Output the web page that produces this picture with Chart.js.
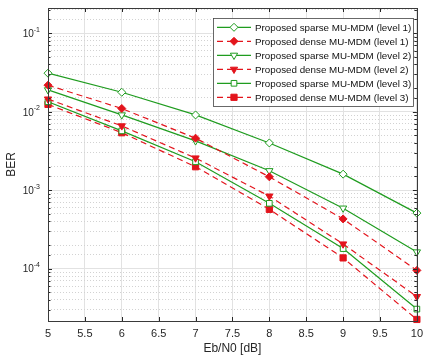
<!DOCTYPE html>
<html lang="en">
<head>
  <meta charset="UTF-8">
  <title>BER vs Eb/N0</title>
  <script src="https://cdn.jsdelivr.net/npm/chart.js"></script>
  <style>
    body {
      margin: 0;
      padding: 0;
      background: #fff;
    }

    #wrap {
      position: relative;
      width: 429px;
      height: 360px;
    }
  </style>
</head>
<body>
  <div id="wrap">
    <canvas id="berChart"></canvas>
  </div>
  <script>
    // values
    const ebn0 = [5, 6, 7, 8, 9, 10];
    const sparseL1 = [0.031, 0.0177, 0.0091, 0.0040, 0.0016, 0.00051];
    const denseL1 = [0.0218, 0.0110, 0.0046, 0.00148, 0.00043, 0.000095];
    const sparseL2 = [0.0190, 0.0091, 0.00425, 0.00177, 0.00059, 0.000163];
    const denseL2 = [0.0145, 0.0066, 0.00257, 0.00084, 0.000206, 0.000044];
    const sparseL3 = [0.0134, 0.0057, 0.0023, 0.00068, 0.00018, 0.0000305];
    const denseL3 = [0.0124, 0.0054, 0.00199, 0.00057, 0.000137, 0.0000225];
    const seriesNames = [
      'Proposed sparse MU-MDM (level 1)',
      'Proposed dense MU-MDM (level 1)',
      'Proposed sparse MU-MDM (level 2)',
      'Proposed dense MU-MDM (level 2)',
      'Proposed sparse MU-MDM (level 3)',
      'Proposed dense MU-MDM (level 3)'
    ];
    const yLabelExps = [-1, -2, -3, -4];

    const GREEN = '#1f9c1f';
    const RED = '#e3141c';
    const AXIS = '#262626';
    const FONT = "'Liberation Sans', Arial, Helvetica, sans-serif";

    const toXY = arr => arr.map((v, i) => ({ x: ebn0[i], y: v }));
    const isDecade = v => Math.abs(Math.log10(v) - Math.round(Math.log10(v))) < 1e-6;

    function sparseSet(label, data, style, radius, rotation) {
      return {
        label: label,
        data: toXY(data),
        borderColor: GREEN,
        borderWidth: 1.2,
        pointStyle: style,
        pointRadius: radius,
        pointRotation: rotation || 0,
        pointBackgroundColor: '#fff',
        pointBorderColor: GREEN,
        pointBorderWidth: 1,
        tension: 0,
        clip: false
      };
    }

    function denseSet(label, data, style, radius, rotation) {
      return {
        label: label,
        data: toXY(data),
        borderColor: RED,
        borderWidth: 1.2,
        borderDash: [6, 4],
        pointStyle: style,
        pointRadius: radius,
        pointRotation: rotation || 0,
        pointBackgroundColor: RED,
        pointBorderColor: RED,
        pointBorderWidth: 1,
        tension: 0,
        clip: false
      };
    }

    // matlab style box, inward ticks, 10^n labels and legend
    const matlabFrame = {
      id: 'matlabFrame',
      afterDraw(chart) {
        const ctx = chart.ctx;
        const a = chart.chartArea;
        const xs = chart.scales.x;
        const ys = chart.scales.y;
        ctx.save();

        // y tick labels
        ctx.fillStyle = AXIS;
        ctx.textBaseline = 'alphabetic';
        ctx.textAlign = 'left';
        yLabelExps.forEach(e => {
          const py = ys.getPixelForValue(Math.pow(10, e));
          const sup = '-' + Math.abs(e);
          ctx.font = '7px ' + FONT;
          const supW = ctx.measureText(sup).width;
          ctx.font = '10px ' + FONT;
          const baseW = ctx.measureText('10').width;
          const right = 40;
          ctx.fillText('10', right - supW - baseW, py + 3.8);
          ctx.font = '7px ' + FONT;
          ctx.fillText(sup, right - supW, py - 1.5);
        });

        // inward ticks
        ctx.strokeStyle = AXIS;
        ctx.lineWidth = 1;
        ctx.beginPath();
        xs.ticks.forEach(t => {
          const px = Math.round(xs.getPixelForValue(t.value)) + 0.5;
          ctx.moveTo(px, a.bottom);
          ctx.lineTo(px, a.bottom - 4);
          ctx.moveTo(px, a.top);
          ctx.lineTo(px, a.top + 4);
        });
        ys.ticks.forEach(t => {
          const py = Math.round(ys.getPixelForValue(t.value)) + 0.5;
          const len = isDecade(t.value) ? 4 : 2.5;
          ctx.moveTo(a.left, py);
          ctx.lineTo(a.left + len, py);
          ctx.moveTo(a.right, py);
          ctx.lineTo(a.right - len, py);
        });
        ctx.stroke();

        // axes box
        ctx.strokeStyle = '#3a3a3a';
        ctx.strokeRect(Math.round(a.left) + 0.5, Math.round(a.top) + 0.5,
          Math.round(a.right - a.left), Math.round(a.bottom - a.top));

        // legend
        const lx = 213.5, ly = 18.5, lw = 200, lh = 88;
        ctx.fillStyle = '#fff';
        ctx.fillRect(lx, ly, lw, lh);
        ctx.strokeStyle = '#444';
        ctx.lineWidth = 0.8;
        ctx.strokeRect(lx, ly, lw, lh);
        chart.data.datasets.forEach((ds, i) => {
          const ry = 27.3 + i * 14;
          ctx.save();
          ctx.strokeStyle = ds.borderColor;
          ctx.lineWidth = ds.borderWidth;
          ctx.setLineDash(ds.borderDash || []);
          ctx.beginPath();
          ctx.moveTo(217, ry);
          ctx.lineTo(251, ry);
          ctx.stroke();
          ctx.setLineDash([]);
          ctx.fillStyle = ds.pointBackgroundColor;
          ctx.strokeStyle = ds.pointBorderColor;
          ctx.lineWidth = ds.pointBorderWidth;
          Chart.helpers.drawPoint(ctx, {
            pointStyle: ds.pointStyle,
            rotation: ds.pointRotation,
            radius: ds.pointRadius,
            borderWidth: ds.pointBorderWidth
          }, 234, ry);
          ctx.restore();
          ctx.fillStyle = '#111';
          ctx.font = '9.8px ' + FONT;
          ctx.textBaseline = 'middle';
          ctx.textAlign = 'left';
          ctx.fillText(ds.label, 255, ry + 0.5);
        });

        ctx.restore();
      }
    };

    const berChartObj = {
      type: 'line',
      data: {
        datasets: [
          sparseSet(seriesNames[0], sparseL1, 'rectRot', 4),
          denseSet(seriesNames[1], denseL1, 'rectRot', 4),
          sparseSet(seriesNames[2], sparseL2, 'triangle', 4.2, 180),
          denseSet(seriesNames[3], denseL2, 'triangle', 4.2, 180),
          sparseSet(seriesNames[4], sparseL3, 'rect', 4),
          denseSet(seriesNames[5], denseL3, 'rect', 4.4)
        ]
      },
      options: {
        responsive: true,
        maintainAspectRatio: false,
        animation: false,
        devicePixelRatio: 1,
        layout: {
          padding: { top: 8, right: 6, left: 0, bottom: 0 }
        },
        plugins: {
          legend: { display: false },
          tooltip: { enabled: false }
        },
        scales: {
          x: {
            type: 'linear',
            min: 5,
            max: 10,
            afterFit: s => { s.height = 39; },
            ticks: {
              stepSize: 0.5,
              autoSkip: false,
              maxRotation: 0,
              padding: 6,
              color: AXIS,
              font: { family: FONT, size: 11 },
              callback: v => String(Math.round(v * 10) / 10)
            },
            grid: {
              color: '#e2e2e2',
              drawTicks: false
            },
            border: { display: false },
            title: {
              display: true,
              text: 'Eb/N0 [dB]',
              color: AXIS,
              font: { family: FONT, size: 12 },
              padding: { top: 0, bottom: 4 }
            }
          },
          y: {
            type: 'logarithmic',
            min: 2.15e-5,
            max: 0.21,
            afterFit: s => { s.width = 48; },
            ticks: { display: false },
            grid: {
              color: ctx => (ctx.tick && isDecade(ctx.tick.value)) ? '#e2e2e2' : '#d2d2d2',
              drawTicks: false
            },
            border: {
              display: false,
              dash: ctx => (ctx.tick && !isDecade(ctx.tick.value)) ? [1, 2] : []
            },
            title: {
              display: true,
              text: 'BER',
              color: AXIS,
              font: { family: FONT, size: 12 },
              padding: { top: 4, bottom: 0 }
            }
          }
        }
      },
      plugins: [matlabFrame]
    };

    new Chart(document.getElementById('berChart'), berChartObj);
  </script>
</body>
</html>
